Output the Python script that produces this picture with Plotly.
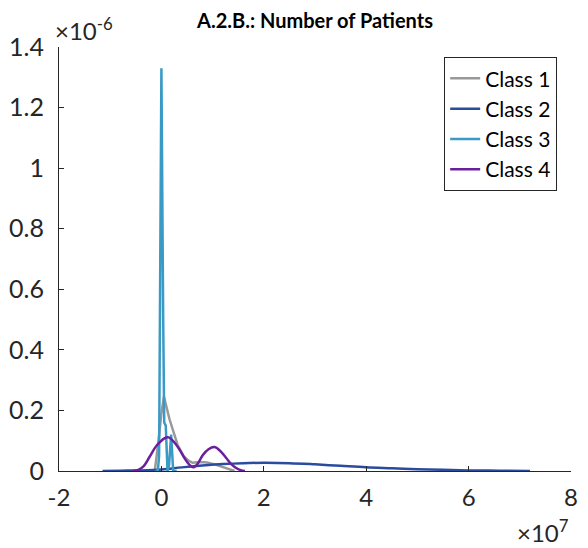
import plotly.graph_objects as go

# x in units of 1e7 patients, y (density) in units of 1e-6
class1_x = [-0.25, -0.13, -0.07, 0.0, 0.05, 0.16, 0.32, 0.43, 0.53, 0.61, 0.75, 0.89, 1.04, 1.24, 1.43]
class1_y = [0.0, 0.0, 0.08, 0.19, 0.245, 0.17, 0.085, 0.05, 0.034, 0.027, 0.03, 0.028, 0.022, 0.01, 0.0]

class2_x = [-1.15, -0.8, -0.4, 0.0, 0.4, 0.8, 1.2, 1.6, 2.0, 2.5, 3.0, 3.5, 4.0, 4.5, 5.0, 5.5, 6.0, 6.6, 7.2]
class2_y = [0.0, 0.001, 0.002, 0.005, 0.012, 0.018, 0.023, 0.026, 0.027, 0.026, 0.022, 0.017, 0.012, 0.009, 0.006, 0.004, 0.002, 0.001, 0.0]

class3_x = [-0.12, -0.07, -0.045, -0.03, 0.0, 0.035, 0.055, 0.085, 0.12, 0.15, 0.19, 0.23, 0.3]
class3_y = [0.0, 0.0, 0.05, 0.5, 1.33, 0.5, 0.16, 0.15, 0.0, 0.02, 0.12, 0.0, 0.0]

class4_x = [-0.56, -0.45, -0.35, -0.23, -0.12, -0.03, 0.05, 0.14, 0.25, 0.36, 0.46, 0.55, 0.62,
            0.7, 0.81, 0.92, 1.04, 1.15, 1.27, 1.37, 1.47, 1.55, 1.63]
class4_y = [0.0, 0.004, 0.015, 0.047, 0.078, 0.095, 0.107, 0.111, 0.095, 0.069, 0.04, 0.02, 0.012,
            0.022, 0.053, 0.072, 0.079, 0.066, 0.042, 0.022, 0.009, 0.003, 0.0]

x_ticks = [-2, 0, 2, 4, 6, 8]
y_ticks = [0, 0.2, 0.4, 0.6, 0.8, 1.0, 1.2, 1.4]
y_tick_text = ["0", "0.2", "0.4", "0.6", "0.8", "1", "1.2", "1.4"]

names = ["Class 1", "Class 2", "Class 3", "Class 4"]
colors = ["#999999", "#2A4B9E", "#3A9AC6", "#6A1F9C"]
shapes = ["linear", "spline", "linear", "spline"]

FONT = "Lato"
AX = "#262626"

fig = go.Figure()
for xs, ys, nm, col, sh in zip([class1_x, class2_x, class3_x, class4_x],
                                [class1_y, class2_y, class3_y, class4_y],
                                names, colors, shapes):
    fig.add_trace(go.Scatter(x=xs, y=ys, mode="lines", name=nm,
                             line=dict(color=col, width=2.5, shape=sh)))

fig.update_layout(
    width=588, height=548,
    margin=dict(l=59, r=17, t=47, b=77, autoexpand=False),
    paper_bgcolor="white", plot_bgcolor="white",
    font=dict(family=FONT, size=24, color=AX),
    title=dict(text="<b>A.2.B.: Number of Patients</b>", x=0.5, xref="paper",
               y=1 - 21 / 548, yanchor="middle", xanchor="center",
               font=dict(family=FONT, size=20, color="black")),
    showlegend=True,
    legend=dict(x=0.973, y=0.976, xanchor="right", yanchor="top",
                bordercolor=AX, borderwidth=1, bgcolor="white",
                font=dict(family=FONT, size=21, color="black")),
    xaxis=dict(range=[-2, 8], tickvals=x_ticks, ticktext=[str(v) for v in x_ticks],
               showgrid=False, zeroline=False, showline=True, linecolor=AX, linewidth=1,
               ticks="inside", ticklen=5, tickcolor=AX, mirror=False, automargin=False,
               tickfont=dict(family=FONT, size=24, color=AX), ticklabelstandoff=5),
    yaxis=dict(range=[0, 1.4], tickvals=y_ticks, ticktext=y_tick_text,
               showgrid=False, zeroline=False, showline=True, linecolor=AX, linewidth=1,
               ticks="inside", ticklen=5, tickcolor=AX, mirror=False, automargin=False,
               tickfont=dict(family=FONT, size=25, color=AX), ticklabelstandoff=9),
)

fig.add_annotation(text="×10<sup>-6</sup>", xref="paper", yref="paper",
                   x=-0.012, y=1.0, xanchor="left", yanchor="bottom",
                   showarrow=False, font=dict(family=FONT, size=24, color=AX))
fig.add_annotation(text="×10<sup>7</sup>", xref="paper", yref="paper",
                   x=1.0, y=-0.1, xanchor="right", yanchor="top",
                   showarrow=False, font=dict(family=FONT, size=24, color=AX))

fig.write_html("out.html")
